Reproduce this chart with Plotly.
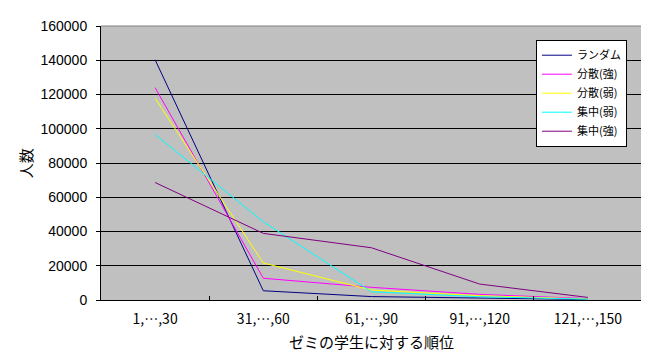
import plotly.graph_objects as go

categories = ["1,…,30", "31,…,60", "61,…,90", "91,…,120", "121,…,150"]
random_vals = [140300, 5400, 2000, 1000, 300]
bunsan_kyo = [124000, 12700, 7400, 3300, 800]
bunsan_jaku = [117800, 21600, 5800, 2500, 600]
shuchu_jaku = [96600, 45700, 4800, 1900, 500]
shuchu_kyo = [68600, 38900, 30500, 9300, 1500]

series = [
    ("ランダム", random_vals, "#000080"),
    ("分散(強)", bunsan_kyo, "#FF00FF"),
    ("分散(弱)", bunsan_jaku, "#FFFF00"),
    ("集中(弱)", shuchu_jaku, "#00FFFF"),
    ("集中(強)", shuchu_kyo, "#800080"),
]

FONT = "Noto Sans CJK JP, Liberation Sans, sans-serif"
NUMFONT = "Liberation Sans, sans-serif"

fig = go.Figure()
for name, vals, color in series:
    fig.add_trace(go.Scatter(x=categories, y=vals, mode="lines", name=name,
                             line=dict(color=color, width=1)))

# page body has an 8px margin, so the figure is 8px smaller and shifted
fig.update_layout(
    width=641, height=351,
    margin=dict(l=93, r=7, t=18, b=59, autoexpand=False),
    paper_bgcolor="white",
    plot_bgcolor="#C0C0C0",
    font=dict(family=FONT, size=12, color="black"),
    showlegend=True,
    legend=dict(x=0.804, y=0.95, xanchor="left", yanchor="top",
                bgcolor="white", bordercolor="black", borderwidth=1,
                font=dict(size=11), itemwidth=30, tracegroupgap=0),
    shapes=[
        dict(type="line", xref="paper", yref="paper", x0=0, x1=1, y0=1, y1=1,
             line=dict(color="#808080", width=1)),
        dict(type="line", xref="paper", yref="paper", x0=1, x1=1, y0=0, y1=1,
             line=dict(color="#808080", width=1)),
    ],
    annotations=[
        dict(text="ゼミの学生に対する順位", xref="paper", yref="paper",
             x=0.5, y=-0.15, xanchor="center", yanchor="middle",
             showarrow=False, font=dict(size=15)),
        dict(text="人数", xref="paper", yref="paper",
             x=-0.14, y=0.5, xanchor="center", yanchor="middle",
             textangle=-90, showarrow=False, font=dict(size=15)),
    ],
)
fig.update_xaxes(
    type="category", range=[-0.5, 4.5], automargin=False,
    showgrid=False, showline=True, linecolor="black", linewidth=1,
    ticks="inside", ticklen=4, tickcolor="black", tickson="boundaries",
    tickfont=dict(family=FONT, size=14), ticklabelstandoff=6,
)
fig.update_yaxes(
    range=[0, 160000], dtick=20000, tickformat="d", automargin=False,
    showgrid=True, gridcolor="black", gridwidth=1,
    showline=True, linecolor="black", linewidth=1, zeroline=False,
    ticks="outside", ticklen=4, tickcolor="black",
    tickfont=dict(family=NUMFONT, size=14), ticklabelstandoff=6,
)

fig.write_html("out.html")
